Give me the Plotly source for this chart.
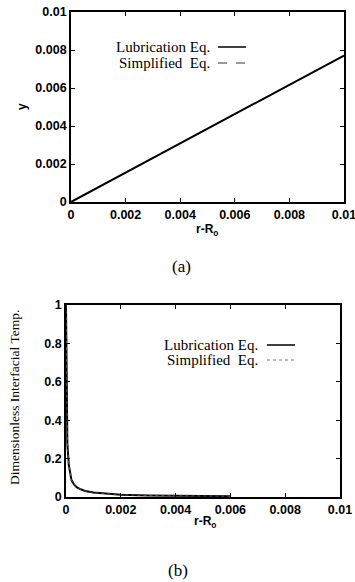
import plotly.graph_objects as go

# ---- data (a) ----
xa = [0.0, 0.002, 0.004, 0.006, 0.008, 0.01]
ya_lub = [0.0, 0.00155, 0.0031, 0.00463, 0.00617, 0.0077]
ya_simp = [0.0, 0.00155, 0.0031, 0.00463, 0.00617, 0.0077]

# ---- data (b) ----
xb = [0.0, 0.00001, 0.00003, 0.00005, 0.0001, 0.00015, 0.0002, 0.0003, 0.0004,
      0.0005, 0.0007, 0.001, 0.0015, 0.002, 0.003, 0.004, 0.005, 0.006]
yb_lub = [1.0, 0.7, 0.4, 0.28, 0.17, 0.115, 0.088, 0.064, 0.05,
          0.042, 0.031, 0.023, 0.016, 0.012, 0.008, 0.006, 0.005, 0.004]
yb_simp = [1.0, 0.7, 0.4, 0.28, 0.17, 0.115, 0.088, 0.064, 0.05,
           0.042, 0.031, 0.023, 0.016, 0.012, 0.008, 0.006, 0.005, 0.004]

xticks = [0, 0.002, 0.004, 0.006, 0.008, 0.01]
xticklabels = ["0", "0.002", "0.004", "0.006", "0.008", "0.01"]
ya_ticks = [0, 0.002, 0.004, 0.006, 0.008, 0.01]
ya_ticklabels = ["0", "0.002", "0.004", "0.006", "0.008", "0.01"]
yb_ticks = [0, 0.2, 0.4, 0.6, 0.8, 1]
yb_ticklabels = ["0", "0.2", "0.4", "0.6", "0.8", "1"]

W, H = 355, 582
def px(x): return x / W
def py(y): return 1 - y / H

fig = go.Figure()
fig.add_trace(go.Scatter(x=xa, y=ya_lub, mode="lines", line=dict(color="black", width=2),
                         xaxis="x", yaxis="y", showlegend=False))
fig.add_trace(go.Scatter(x=xa, y=ya_simp, mode="lines", line=dict(color="black", width=1, dash="dash"),
                         xaxis="x", yaxis="y", showlegend=False))
fig.add_trace(go.Scatter(x=xb, y=yb_lub, mode="lines", line=dict(color="black", width=2),
                         xaxis="x2", yaxis="y2", showlegend=False))
fig.add_trace(go.Scatter(x=xb, y=yb_simp, mode="lines", line=dict(color="#555", width=1, dash="dot"),
                         xaxis="x2", yaxis="y2", showlegend=False))

bold = lambda L: ["<b>" + s + "</b>" for s in L]
tickfont = dict(family="Liberation Sans", size=12.5, color="black")
axis_common = dict(showline=True, linecolor="black", linewidth=1.8, mirror="ticks",
                   ticks="inside", ticklen=4, tickcolor="black", showgrid=False,
                   zeroline=False, tickfont=tickfont, automargin=False,
                   ticklabeloverflow="allow")

fig.update_layout(
    width=W, height=H, margin=dict(l=0, r=0, t=0, b=0, autoexpand=False),
    paper_bgcolor="white", plot_bgcolor="white",
    xaxis=dict(domain=[px(71), px(344)], anchor="y", range=[0, 0.01],
               tickvals=xticks, ticktext=bold(xticklabels), **axis_common),
    yaxis=dict(domain=[py(202), py(12)], anchor="x", range=[0, 0.01],
               tickvals=ya_ticks, ticktext=bold(ya_ticklabels), **axis_common),
    xaxis2=dict(domain=[px(66), px(340)], anchor="y2", range=[0, 0.01],
                tickvals=xticks, ticktext=bold(xticklabels), **axis_common),
    yaxis2=dict(domain=[py(497), py(305)], anchor="x2", range=[0, 1],
                tickvals=yb_ticks, ticktext=bold(yb_ticklabels), **axis_common),
)

serif = "Liberation Serif"
sans = "Liberation Sans"
ann = []
def text(x, y, t, size=13, family=serif, xanchor="center", angle=0):
    ann.append(dict(x=px(x), y=py(y), xref="paper", yref="paper", text=t, showarrow=False,
                    xanchor=xanchor, yanchor="middle", textangle=angle,
                    font=dict(family=family, size=size, color="black")))

# (a) labels
text(22, 107, "<b>y</b>", size=12, family=sans, angle=-90)
text(207, 230, "<b>r-R<sub>o</sub></b>", size=12, family=sans)
text(181, 267, "(a)", size=17)
text(212, 47, "Lubrication Eq.", size=15, xanchor="right")
text(212, 63, "Simplified  Eq.", size=15, xanchor="right")
# (b) labels
text(14, 398, "Dimensionless Interfacial Temp.", size=13.5, angle=-90)
text(205, 522, "<b>r-R<sub>o</sub></b>", size=12, family=sans)
text(178, 570, "(b)", size=17)
text(260, 345, "Lubrication Eq.", size=15, xanchor="right")
text(260, 360, "Simplified  Eq.", size=15, xanchor="right")
fig.update_layout(annotations=ann)

shapes = [
    dict(type="line", xref="paper", yref="paper", x0=px(218), x1=px(246), y0=py(47), y1=py(47),
         line=dict(color="black", width=1.5)),
    dict(type="line", xref="paper", yref="paper", x0=px(218), x1=px(246), y0=py(63), y1=py(63),
         line=dict(color="black", width=0.8, dash="dash")),
    dict(type="line", xref="paper", yref="paper", x0=px(267), x1=px(295), y0=py(345), y1=py(345),
         line=dict(color="black", width=1.5)),
    dict(type="line", xref="paper", yref="paper", x0=px(267), x1=px(295), y0=py(360), y1=py(360),
         line=dict(color="#555", width=0.8, dash="dot")),
]
fig.update_layout(shapes=shapes)

fig.write_html("out.html", config={"displayModeBar": False},
               post_script="document.body.style.margin='0';document.body.style.overflow='hidden';")
